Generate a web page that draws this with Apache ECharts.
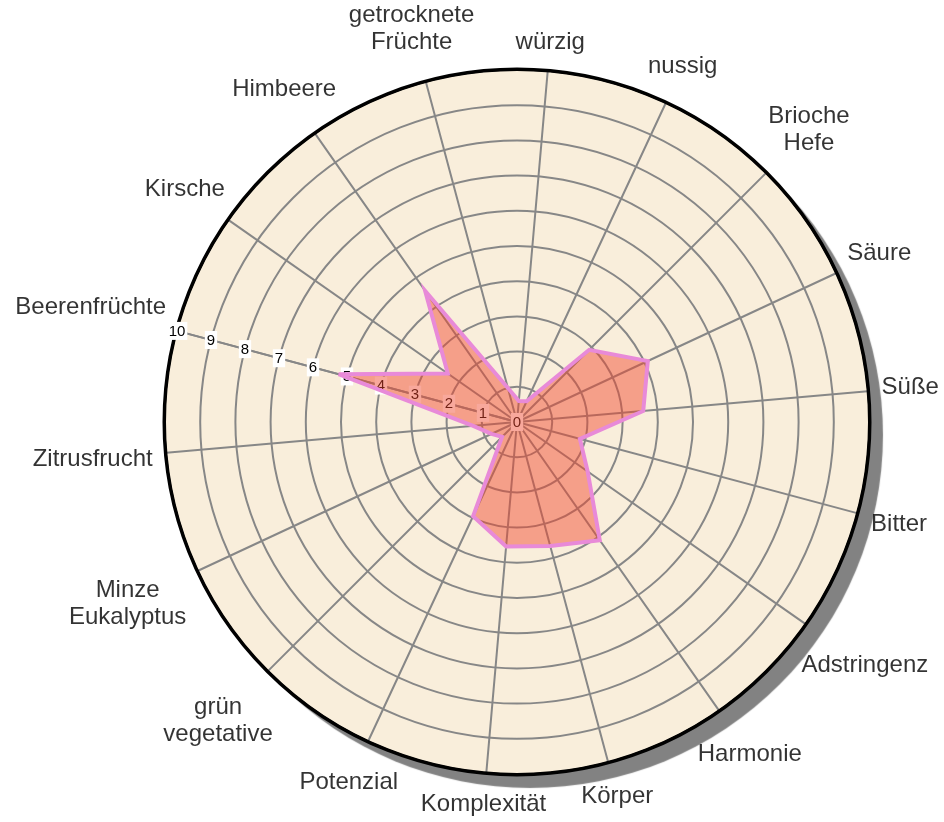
<!DOCTYPE html>
<html><head><meta charset="utf-8">
<script src="https://cdn.jsdelivr.net/npm/echarts@6/dist/echarts.min.js"></script>
<style>html,body{margin:0;padding:0;background:#fff}#c{width:944px;height:822px}</style>
</head><body><div id="c"></div>
<script>
// ---- data ----
const categories = ['Beerenfrüchte','Kirsche','Himbeere','getrocknete\nFrüchte','würzig','nussig','Brioche\nHefe','Säure','Süße','Bitter','Adstringenz','Harmonie','Körper','Komplexität','Potenzial','grün\nvegetative','Minze\nEukalyptus','Zitrusfrucht'];
const values = [5.25,2.4,4.55,1.0,0.6,0.65,2.9,4.1,3.6,1.85,2.45,4.1,3.65,3.55,2.95,0.6,0.8,1.25];
const tickLabels = ['0','1','2','3','4','5','6','7','8','9','10'];

// ---- layout / style ----
const CX = 517, CY = 422, R = 352, START = 165;
const FONT = 24, LH = 27, GAP = 13;
const FAMILY = '"Liberation Sans", Arial, sans-serif';
const GRID = '#878787';

const step = 360 / categories.length;
const ctx = document.createElement('canvas').getContext('2d');
ctx.font = FONT + 'px ' + FAMILY;
const labelR = 10 * (1 + GAP / R);
const labelData = categories.map(function (c, i) {
  const lines = c.split('\n');
  let w = 0;
  lines.forEach(function (l) { w = Math.max(w, ctx.measureText(l).width); });
  const h = lines.length * LH;
  const a = (START - i * step) * Math.PI / 180;
  const ca = Math.cos(a), sa = Math.sin(a);
  const extra = Math.abs(w / 2 * ca) + Math.abs(h / 2 * sa);
  return { value: [labelR, i * step], label: { offset: [extra * ca, -extra * sa] } };
});
const lineData = values.map(function (v, i) { return [v, i * step]; }).concat([[values[0], 360]]);
const splitColors = tickLabels.map(function (t, i) { return i === tickLabels.length - 1 ? '#000' : GRID; });

const chart = echarts.init(document.getElementById('c'));
chart.setOption({
  animation: false,
  backgroundColor: '#fff',
  polar: { center: [CX, CY], radius: R },
  angleAxis: {
    type: 'value', min: 0, max: 360, interval: step, startAngle: START, clockwise: true, z: 1,
    axisLine: { show: false }, axisTick: { show: false }, axisLabel: { show: false },
    splitLine: { show: true, lineStyle: { color: GRID, width: 2 } }, splitArea: { show: false }
  },
  radiusAxis: {
    type: 'value', min: 0, max: 10, interval: 1, z: 2,
    axisLine: { show: true, lineStyle: { color: GRID, width: 2 } },
    axisTick: { show: false },
    axisLabel: {
      show: true, margin: 0, align: 'center', verticalAlign: 'middle', showMinLabel: true, showMaxLabel: true,
      formatter: function (v) { return '{t|' + tickLabels[Math.round(v)] + '}'; },
      rich: { t: { fontSize: 15, lineHeight: 15, fontFamily: FAMILY, color: '#000',
        backgroundColor: '#fff', padding: [2, 2, 1, 2], align: 'center' } }
    },
    splitLine: { show: true, lineStyle: { color: splitColors, width: 2 } },
    splitArea: { show: false }
  },
  series: [
    {
      type: 'pie', z: 0, silent: true, center: [CX, CY], radius: [0, R + 1],
      label: { show: false }, labelLine: { show: false }, emphasis: { disabled: true },
      data: [{ value: 1, itemStyle: { color: '#f9eedb', borderWidth: 0,
        shadowColor: '#828282', shadowBlur: 1, shadowOffsetX: 13, shadowOffsetY: 13 } }]
    },
    {
      type: 'pie', z: 0, silent: true, center: [CX, CY], radius: [0, R + 1],
      label: { show: false }, labelLine: { show: false }, emphasis: { disabled: true },
      data: [{ value: 1, itemStyle: { color: 'rgba(0,0,0,0)', borderColor: '#000', borderWidth: 3 } }]
    },
    {
      type: 'line', coordinateSystem: 'polar', z: 3, silent: true, symbol: 'none', showSymbol: false,
      data: lineData,
      lineStyle: { color: '#e88ad8', width: 4, join: 'miter' },
      areaStyle: { color: 'rgb(240,70,45)', opacity: 0.47 }
    },
    {
      type: 'scatter', coordinateSystem: 'polar', z: 4, clip: false, silent: true, symbolSize: 1,
      itemStyle: { color: 'rgba(0,0,0,0)' }, data: labelData,
      label: { show: true, position: 'inside', align: 'center', verticalAlign: 'middle',
        fontSize: FONT, lineHeight: LH, fontFamily: FAMILY, color: '#000',
        formatter: function (p) { return categories[p.dataIndex]; } }
    }
  ]
});
</script></body></html>
